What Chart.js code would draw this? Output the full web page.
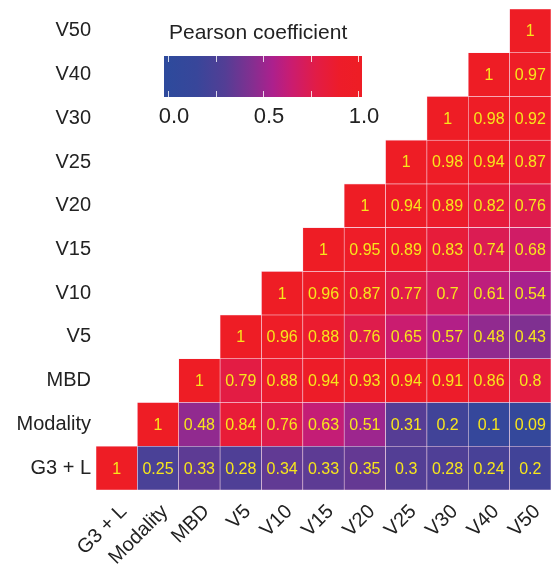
<!DOCTYPE html>
<html>
<head>
<meta charset="utf-8">
<script src="https://cdn.jsdelivr.net/npm/chart.js@4.4.1/dist/chart.umd.min.js"></script>
<style>
  html, body { margin: 0; padding: 0; background: #fff; }
  #wrap { width: 552px; height: 567px; position: relative; }
</style>
</head>
<body>
<div id="wrap"><canvas id="heat"></canvas></div>
<script>
// variables, bottom row / left column first
var variables = ['G3 + L', 'Modality', 'MBD', 'V5', 'V10', 'V15', 'V20', 'V25', 'V30', 'V40', 'V50'];

// each row starts at its own diagonal cell
var rowG3L      = [1, 0.25, 0.33, 0.28, 0.34, 0.33, 0.35, 0.3, 0.28, 0.24, 0.2];
var rowModality = [1, 0.48, 0.84, 0.76, 0.63, 0.51, 0.31, 0.2, 0.1, 0.09];
var rowMBD      = [1, 0.79, 0.88, 0.94, 0.93, 0.94, 0.91, 0.86, 0.8];
var rowV5       = [1, 0.96, 0.88, 0.76, 0.65, 0.57, 0.48, 0.43];
var rowV10      = [1, 0.96, 0.87, 0.77, 0.7, 0.61, 0.54];
var rowV15      = [1, 0.95, 0.89, 0.83, 0.74, 0.68];
var rowV20      = [1, 0.94, 0.89, 0.82, 0.76];
var rowV25      = [1, 0.98, 0.94, 0.87];
var rowV30      = [1, 0.98, 0.92];
var rowV40      = [1, 0.97];
var rowV50      = [1];
var rows = [rowG3L, rowModality, rowMBD, rowV5, rowV10, rowV15, rowV20, rowV25, rowV30, rowV40, rowV50];

var colorbarTicks = [0, 0.25, 0.5, 0.75, 1];
var colorbarLabels = [[0, '0.0'], [0.5, '0.5'], [1, '1.0']];

var colorStops = [
  [0.00, [46, 74, 156]],
  [0.15, [56, 70, 154]],
  [0.30, [83, 62, 149]],
  [0.45, [134, 46, 144]],
  [0.55, [172, 32, 141]],
  [0.65, [202, 28, 112]],
  [0.78, [226, 28, 70]],
  [0.90, [237, 28, 42]],
  [1.00, [238, 29, 37]]
];

function colorFor(v) {
  for (var i = 1; i < colorStops.length; i++) {
    if (v <= colorStops[i][0]) {
      var a = colorStops[i - 1], b = colorStops[i];
      var t = (v - a[0]) / (b[0] - a[0]);
      var c = a[1].map(function(x, k) { return Math.round(x + (b[1][k] - x) * t); });
      return 'rgb(' + c.join(',') + ')';
    }
  }
  return 'rgb(' + colorStops[colorStops.length - 1][1].join(',') + ')';
}

function cellValue(r, c) {
  if (c < r) return null;
  return rows[r][c - r];
}

var FONT = '"Liberation Sans", Arial, Helvetica, sans-serif';

var datasets = rows.map(function(row, r) {
  var data = [], colors = [];
  for (var c = 0; c < variables.length; c++) {
    var v = cellValue(r, c);
    data.push(v === null ? null : [r - 0.5, r + 0.5]);
    colors.push(v === null ? 'rgba(0,0,0,0)' : colorFor(v));
  }
  return {
    label: variables[r],
    data: data,
    backgroundColor: colors,
    borderColor: 'rgba(250,215,230,0.9)',
    borderWidth: 0.6,
    borderSkipped: false,
    grouped: false,
    barPercentage: 1,
    categoryPercentage: 1
  };
});

var cellLabels = {
  id: 'cellLabels',
  afterDatasetsDraw: function(chart) {
    var ctx = chart.ctx;
    ctx.save();
    ctx.font = '16px ' + FONT;
    ctx.fillStyle = '#F7E61C';
    ctx.textAlign = 'center';
    ctx.textBaseline = 'middle';
    chart.data.datasets.forEach(function(ds, r) {
      chart.getDatasetMeta(r).data.forEach(function(bar, c) {
        var v = cellValue(r, c);
        if (v === null) return;
        ctx.fillText(String(v), bar.x, (bar.y + bar.base) / 2 + 1);
      });
    });
    ctx.restore();
  }
};

// colour legend in the empty upper-left triangle
var colorbar = {
  id: 'colorbar',
  afterDraw: function(chart) {
    var ctx = chart.ctx;
    var x0 = 168, x1 = 358, left = 164, right = 362, top = 56, bottom = 97;
    var grad = ctx.createLinearGradient(x0, 0, x1, 0);
    colorStops.forEach(function(s) { grad.addColorStop(s[0], colorFor(s[0])); });
    ctx.save();
    ctx.fillStyle = colorFor(0);
    ctx.fillRect(left, top, x0 - left, bottom - top);
    ctx.fillStyle = colorFor(1);
    ctx.fillRect(x1, top, right - x1, bottom - top);
    ctx.fillStyle = grad;
    ctx.fillRect(x0, top, x1 - x0, bottom - top);

    ctx.strokeStyle = 'rgba(255,255,255,0.8)';
    ctx.lineWidth = 1;
    colorbarTicks.forEach(function(t) {
      var x = Math.round(x0 + t * (x1 - x0)) + 0.5;
      ctx.beginPath();
      ctx.moveTo(x, top); ctx.lineTo(x, top + 6);
      ctx.moveTo(x, bottom - 6); ctx.lineTo(x, bottom);
      ctx.stroke();
    });

    ctx.fillStyle = '#222';
    ctx.font = '21px ' + FONT;
    ctx.textAlign = 'left';
    ctx.textBaseline = 'middle';
    ctx.fillText('Pearson coefficient', 169, 33);
    ctx.font = '22px ' + FONT;
    ctx.textAlign = 'center';
    colorbarLabels.forEach(function(l) {
      ctx.fillText(l[1], x0 + l[0] * (x1 - x0) + 6, 117);
    });
    ctx.restore();
  }
};

new Chart(document.getElementById('heat'), {
  type: 'bar',
  data: {
    labels: variables,
    datasets: datasets
  },
  options: {
    events: [],
    animation: false,
    responsive: true,
    maintainAspectRatio: false,
    layout: { padding: { top: -1, right: 1, left: 0, bottom: 0 } },
    plugins: {
      legend: { display: false },
      tooltip: { enabled: false }
    },
    scales: {
      x: {
        type: 'category',
        offset: true,
        grid: { display: false },
        border: { display: false },
        ticks: {
          autoSkip: false,
          maxRotation: 45,
          minRotation: 45,
          padding: 2,
          labelOffset: 7,
          color: '#222',
          font: { family: FONT, size: 20 }
        },
        afterFit: function(scale) { scale.height = 77; }
      },
      y: {
        type: 'linear',
        min: -0.5,
        max: 10.5,
        grid: { display: false },
        border: { display: false },
        afterBuildTicks: function(scale) {
          scale.ticks = variables.map(function(name, i) { return { value: i }; });
        },
        ticks: {
          padding: -3,
          color: '#222',
          font: { family: FONT, size: 20 },
          callback: function(value) { return variables[value]; }
        },
        afterFit: function(scale) { scale.width = 96; }
      }
    }
  },
  plugins: [cellLabels, colorbar]
});
</script>
</body>
</html>
